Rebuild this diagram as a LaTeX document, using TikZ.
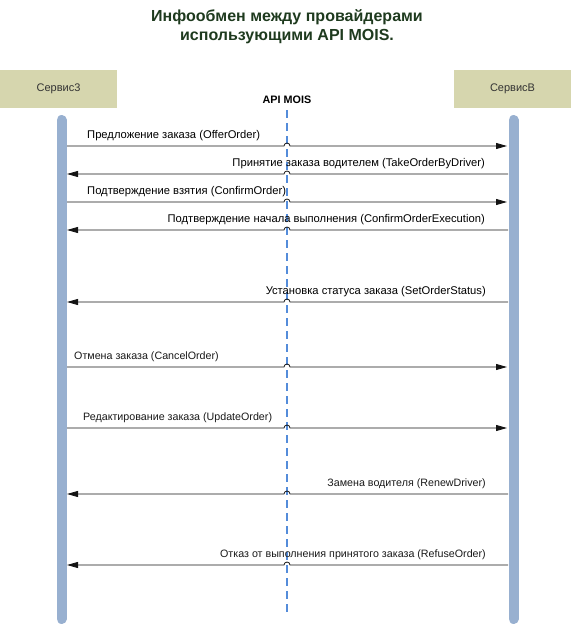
\documentclass[tikz,border=0pt]{standalone}
\usepackage{fontspec}
\setmainfont{Liberation Sans}
\usetikzlibrary{arrows.meta}
\definecolor{titlegreen}{RGB}{30,58,30}
\definecolor{boxfill}{RGB}{214,214,174}
\definecolor{barblue}{RGB}{152,176,208}
\definecolor{dashblue}{RGB}{84,140,218}
\definecolor{msgline}{RGB}{20,20,20}
\definecolor{msgtext}{RGB}{25,25,25}
\tikzset{
  svcbox/.style={fill=boxfill, draw=none, minimum width=117pt, minimum height=38pt, inner sep=0pt, font=\fontsize{11}{12}\selectfont, text=black!80},
  lifebar/.style={draw=barblue, line width=10pt, line cap=round},
  apiline/.style={draw=dashblue, line width=2.6pt, dash pattern=on 8pt off 5pt},
  msg/.style={draw=msgline, line width=0.8pt, -{Triangle[length=11pt,width=6pt]}},
  lblw/.style={anchor=base west, inner sep=0pt, font=\fontsize{10.7}{12}\selectfont, text=msgtext},
  lble/.style={anchor=base east, inner sep=0pt, font=\fontsize{10.7}{12}\selectfont, text=msgtext},
  upper/.style={font=\fontsize{11.2}{13}\selectfont, text=black},
}
\begin{document}
\begin{tikzpicture}[x=1pt,y=-1pt]
\useasboundingbox (0,0) rectangle (571,624);
% title
\node[font=\fontsize{16}{19}\selectfont\bfseries, text=titlegreen, align=center, inner sep=0pt] (title) at (287,26.5) {Инфообмен между провайдерами\\использующими API MOIS.};
% participants
\node[svcbox] (s3) at (58.5,89) {Сервис3};
\node[svcbox] (sb) at (512.5,89) {СервисB};
\node[font=\fontsize{10.8}{12}\selectfont\bfseries, inner sep=0pt] (api) at (287,100) {API MOIS};
% lifelines
\coordinate (ltop) at (61.5,120);
\coordinate (lbot) at (61.5,619);
\coordinate (rtop) at (513.5,120);
\coordinate (rbot) at (513.5,619);
\coordinate (atop) at (287,110);
\coordinate (abot) at (287,614);
\draw[lifebar] (ltop) -- (lbot);
\draw[lifebar] (rtop) -- (rbot);
\draw[apiline] (atop) -- (abot);
% messages
\foreach \i/\y in {1/146,2/174,3/202,4/230,5/302,6/367,7/428,8/494,9/565}{
  \coordinate (L\i) at (67,\y);
  \coordinate (R\i) at (507,\y);
  \coordinate (ML\i) at (284,\y);
  \coordinate (MR\i) at (290,\y);
}
% rightward
\foreach \i in {1,3,6,7}{
  \draw[msg] (L\i) -- (ML\i) arc[start angle=180,end angle=360,radius=3] -- (R\i);
}
% leftward
\foreach \i in {2,4,5,8,9}{
  \draw[msg] ([xshift=1pt]R\i) -- (MR\i) arc[start angle=0,end angle=-180,radius=3] -- (L\i);
}
% labels
\node[lblw,upper] (t1) at (87,138.5) {Предложение заказа (OfferOrder)};
\node[lble,upper] (t2) at (485,166.5) {Принятие заказа водителем (TakeOrderByDriver)};
\node[lblw,upper] (t3) at (87,194.5) {Подтверждение взятия (ConfirmOrder)};
\node[lble,upper] (t4) at (485,222.5) {Подтверждение начала выполнения (ConfirmOrderExecution)};
\node[lble,upper] (t5) at (486,294.5) {Установка статуса заказа (SetOrderStatus)};
\node[lblw] (t6) at (74,359.5) {Отмена заказа (CancelOrder)};
\node[lblw] (t7) at (83,420.5) {Редактирование заказа (UpdateOrder)};
\node[lble] (t8) at (486,486.5) {Замена водителя (RenewDriver)};
\node[lble] (t9) at (486,557.5) {Отказ от выполнения принятого заказа (RefuseOrder)};
\end{tikzpicture}
\end{document}
